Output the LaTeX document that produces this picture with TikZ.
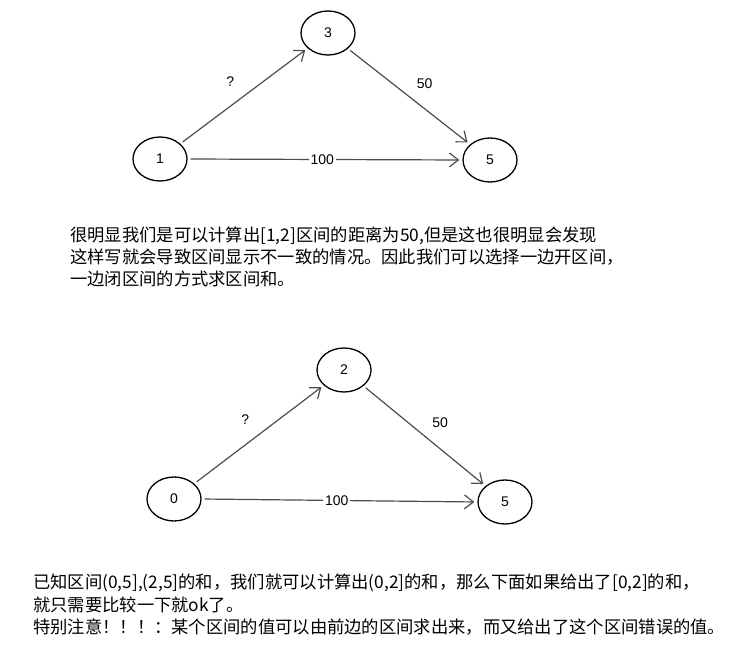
\documentclass[tikz,border=0pt]{standalone}
\usepackage{fontspec}
\setmainfont{Liberation Sans}
\newfontfamily\cjk{Noto Sans CJK SC}
\usetikzlibrary{shapes.geometric,arrows.meta}
\tikzset{
  vert/.style={ellipse,draw,line width=1.3pt,minimum width=54pt,minimum height=44pt,inner sep=0pt,font=\fontsize{14}{16}\selectfont},
  edge/.style={draw,line width=1.2pt,gray!60!black,shorten >=3pt,shorten <=3pt,-{Straight Barb[length=9pt,width=14pt]}},
  elab/.style={text=black,font=\fontsize{14}{16}\selectfont},
  wlab/.style={elab,fill=white,inner sep=2pt},
  para/.style={anchor=west,font=\cjk\fontsize{17.3}{19}\selectfont,inner sep=0pt}
}
\begin{document}
\begin{tikzpicture}[x=1pt,y=-1pt]
  \useasboundingbox (0,0) rectangle (731,660);
  % upper graph
  \node[vert] (one) at (160,159) {1};
  \node[vert] (three) at (328,33) {3};
  \node[vert] (five) at (490,160) {5};
  \draw[edge] (one) -- (three) node[midway,above left=6pt,elab] {?};
  \draw[edge] (three) -- (five) node[midway,above right=4pt,elab] {50};
  \draw[edge] (one.east) -- (five.west) node[pos=0.49,wlab] {100};
  \node[para] (t1) at (70,236) {很明显我们是可以计算出[1,2]区间的距离为50,但是这也很明显会发现};
  \node[para] (t2) at (70,257) {这样写就会导致区间显示不一致的情况。因此我们可以选择一边开区间，};
  \node[para] (t3) at (70,279) {一边闭区间的方式求区间和。};
  % lower graph
  \node[vert] (zero) at (174,499) {0};
  \node[vert] (two) at (344,370) {2};
  \node[vert] (fiveb) at (505,502) {5};
  \draw[edge] (zero) -- (two) node[midway,above left=6pt,elab] {?};
  \draw[edge] (two) -- (fiveb) node[midway,above right=4pt,elab] {50};
  \draw[edge] (zero.east) -- (fiveb.west) node[pos=0.49,wlab] {100};
  \node[para] (b1) at (33,583) {已知区间(0,5],(2,5]的和，我们就可以计算出(0,2]的和，那么下面如果给出了[0,2]的和，};
  \node[para] (b2) at (33,605) {就只需要比较一下就ok了。};
  \node[para] (b3) at (33,627) {特别注意！！！：某个区间的值可以由前边的区间求出来，而又给出了这个区间错误的值。};
\end{tikzpicture}
\end{document}
